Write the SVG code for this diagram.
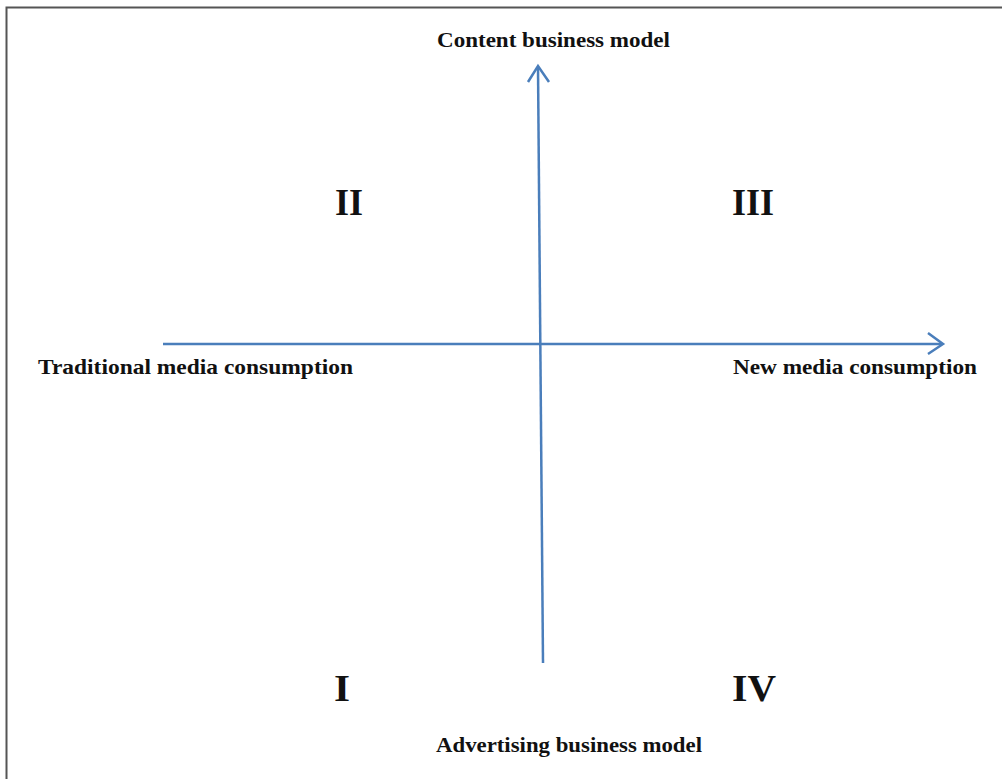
<svg xmlns="http://www.w3.org/2000/svg" width="1002" height="779" viewBox="0 0 1002 779">
  <defs>
    <style>
      .lbl { font-family: "Liberation Serif", "Times New Roman", serif; font-weight: bold; font-size: 22px; fill: #111; }
      .num { font-family: "Liberation Serif", "Times New Roman", serif; font-weight: bold; font-size: 38px; fill: #111; }
      .axis { stroke: #4A7EBB; stroke-width: 2.5; fill: none; }
    </style>
  </defs>
  <rect x="0" y="0" width="1002" height="779" fill="#ffffff"/>
  <path d="M6.5,779 V7.5 H1002" fill="none" stroke="#555555" stroke-width="2"/>
  <g id="connectors">
    <line class="axis" x1="163" y1="344" x2="942" y2="344"/>
    <polyline class="axis" points="928,333 943,344 928,354"/>
    <line class="axis" x1="543" y1="663" x2="538" y2="67"/>
    <polyline class="axis" points="528,82 538,66 549,82"/>
  </g>
  <g id="label-top"><text class="lbl" x="437" y="47" textLength="233" lengthAdjust="spacingAndGlyphs">Content business model</text></g>
  <g id="label-left"><text class="lbl" x="38" y="374" textLength="315" lengthAdjust="spacingAndGlyphs">Traditional media consumption</text></g>
  <g id="label-right"><text class="lbl" x="733" y="374" textLength="244" lengthAdjust="spacingAndGlyphs">New media consumption</text></g>
  <g id="label-bottom"><text class="lbl" x="436" y="752" textLength="266" lengthAdjust="spacingAndGlyphs">Advertising business model</text></g>
  <g id="q2"><text class="num" x="335" y="215" textLength="28" lengthAdjust="spacingAndGlyphs">II</text></g>
  <g id="q3"><text class="num" x="732" y="215" textLength="42" lengthAdjust="spacingAndGlyphs">III</text></g>
  <g id="q1"><text class="num" x="334" y="701" textLength="16" lengthAdjust="spacingAndGlyphs">I</text></g>
  <g id="q4"><text class="num" x="732" y="701" textLength="44" lengthAdjust="spacingAndGlyphs">IV</text></g>
</svg>
